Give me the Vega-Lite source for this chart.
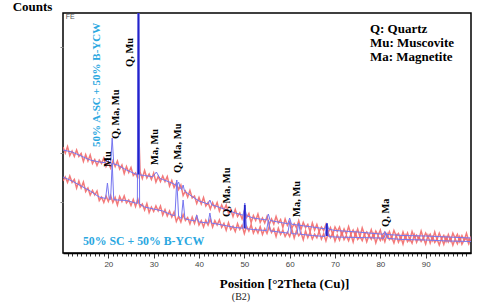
{
"$schema": "https://vega.github.io/schema/vega-lite/v6.json",
"width": 408, "height": 240,
"autosize": {"type": "none"},
"padding": {"left": 63, "top": 13, "right": 9, "bottom": 53},
"background": "white",
"config": {"view": {"stroke": "black", "strokeWidth": 1.5}},
"title": {"text": "(B2)", "orient": "bottom", "anchor": "middle", "dx": -26, "offset": 2, "fontSize": 10, "font": "Liberation Serif", "fontWeight": "normal", "color": "#222"},
"datasets": {
"obsA": [{"x":10,"v":1060},{"x":10.5,"v":1000},{"x":11,"v":1065},{"x":11.5,"v":975},{"x":12,"v":1020},{"x":12.5,"v":965},{"x":13,"v":1030},{"x":13.5,"v":965},{"x":14,"v":995},{"x":14.5,"v":915},
{"x":15,"v":985},{"x":15.5,"v":920},{"x":16,"v":980},{"x":16.5,"v":895},{"x":17,"v":935},{"x":17.5,"v":875},{"x":18,"v":930},{"x":18.5,"v":895},{"x":19,"v":950},{"x":19.5,"v":865},
{"x":20,"v":905},{"x":20.5,"v":850},{"x":21,"v":920},{"x":21.5,"v":865},{"x":22,"v":920},{"x":22.5,"v":840},{"x":23,"v":880},{"x":23.5,"v":795},{"x":24,"v":865},{"x":24.5,"v":805},
{"x":25,"v":855},{"x":25.5,"v":775},{"x":26,"v":800},{"x":26.5,"v":745},{"x":26.6,"v":1400},{"x":27,"v":810},{"x":27.5,"v":745},{"x":28,"v":825},{"x":28.5,"v":750},{"x":29,"v":790},{"x":29.5,"v":735},
{"x":30,"v":800},{"x":30.5,"v":710},{"x":31,"v":765},{"x":31.5,"v":715},{"x":32,"v":770},{"x":32.5,"v":715},{"x":33,"v":765},{"x":33.5,"v":670},{"x":34,"v":725},{"x":34.5,"v":655},
{"x":35,"v":700},{"x":35.5,"v":635},{"x":36,"v":680},{"x":36.5,"v":575},{"x":37,"v":620},{"x":37.5,"v":560},{"x":38,"v":625},{"x":38.5,"v":550},{"x":39,"v":570},{"x":39.5,"v":495},
{"x":40,"v":555},{"x":40.5,"v":490},{"x":41,"v":555},{"x":41.5,"v":470},{"x":42,"v":505},{"x":42.5,"v":440},{"x":43,"v":505},{"x":43.5,"v":450},{"x":44,"v":505},{"x":44.5,"v":420},
{"x":45,"v":480},{"x":45.5,"v":430},{"x":46,"v":480},{"x":46.5,"v":400},{"x":47,"v":435},{"x":47.5,"v":365},{"x":48,"v":435},{"x":48.5,"v":365},{"x":49,"v":400},{"x":49.5,"v":340},
{"x":50,"v":415},{"x":50.5,"v":355},{"x":51,"v":395},{"x":51.5,"v":305},{"x":52,"v":375},{"x":52.5,"v":325},{"x":53,"v":390},{"x":53.5,"v":305},{"x":54,"v":350},{"x":54.5,"v":300},
{"x":55,"v":365},{"x":55.5,"v":285},{"x":56,"v":340},{"x":56.5,"v":290},{"x":57,"v":365},{"x":57.5,"v":300},{"x":58,"v":335},{"x":58.5,"v":255},{"x":59,"v":340},{"x":59.5,"v":275},
{"x":60,"v":315},{"x":60.5,"v":252},{"x":61,"v":294},{"x":61.5,"v":251},{"x":62,"v":323},{"x":62.5,"v":235},{"x":63,"v":307},{"x":63.5,"v":254},{"x":64,"v":286},{"x":64.5,"v":213},
{"x":65,"v":300},{"x":65.5,"v":230},{"x":66,"v":285},{"x":66.5,"v":215},{"x":67,"v":260},{"x":67.5,"v":225},{"x":68,"v":285},{"x":68.5,"v":205},{"x":69,"v":255},{"x":69.5,"v":185},
{"x":70,"v":260},{"x":70.5,"v":215},{"x":71,"v":260},{"x":71.5,"v":180},{"x":72,"v":240},{"x":72.5,"v":190},{"x":73,"v":265},{"x":73.5,"v":190},{"x":74,"v":230},{"x":74.5,"v":175},
{"x":75,"v":240},{"x":75.5,"v":163},{"x":76,"v":251},{"x":76.5,"v":184},{"x":77,"v":212},{"x":77.5,"v":170},{"x":78,"v":233},{"x":78.5,"v":156},{"x":79,"v":219},{"x":79.5,"v":177},
{"x":80,"v":230},{"x":80.5,"v":140},{"x":81,"v":205},{"x":81.5,"v":160},{"x":82,"v":215},{"x":82.5,"v":150},{"x":83,"v":225},{"x":83.5,"v":170},{"x":84,"v":195},{"x":84.5,"v":135},
{"x":85,"v":210},{"x":85.5,"v":145},{"x":86,"v":200},{"x":86.5,"v":130},{"x":87,"v":215},{"x":87.5,"v":155},{"x":88,"v":180},{"x":88.5,"v":135},{"x":89,"v":220},{"x":89.5,"v":145},
{"x":90,"v":200},{"x":90.5,"v":154},{"x":91,"v":188},{"x":91.5,"v":127},{"x":92,"v":211},{"x":92.5,"v":135},{"x":93,"v":199},{"x":93.5,"v":143},{"x":94,"v":177},{"x":94.5,"v":116},
{"x":95,"v":185},{"x":95.5,"v":124},{"x":96,"v":198},{"x":96.5,"v":147},{"x":97,"v":186},{"x":97.5,"v":115},{"x":98,"v":174},{"x":98.5,"v":128},{"x":99,"v":197},{"x":99.5,"v":121},
{"x":100,"v":165}],
"obsB": [{"x":10,"v":720},{"x":10.5,"v":760},{"x":11,"v":705},{"x":11.5,"v":770},{"x":12,"v":705},{"x":12.5,"v":735},{"x":13,"v":650},{"x":13.5,"v":720},{"x":14,"v":650},{"x":14.5,"v":710},
{"x":15,"v":615},{"x":15.5,"v":650},{"x":16,"v":580},{"x":16.5,"v":625},{"x":17,"v":580},{"x":17.5,"v":620},{"x":18,"v":525},{"x":18.5,"v":560},{"x":19,"v":505},{"x":19.5,"v":570},
{"x":20,"v":515},{"x":20.5,"v":575},{"x":21,"v":505},{"x":21.5,"v":555},{"x":22,"v":480},{"x":22.5,"v":565},{"x":23,"v":515},{"x":23.5,"v":570},{"x":24,"v":500},{"x":24.5,"v":530},
{"x":25,"v":475},{"x":25.5,"v":535},{"x":26,"v":465},{"x":26.5,"v":540},{"x":27,"v":460},{"x":27.5,"v":490},{"x":28,"v":430},{"x":28.5,"v":495},{"x":29,"v":405},{"x":29.5,"v":460},
{"x":30,"v":415},{"x":30.5,"v":470},{"x":31,"v":420},{"x":31.5,"v":470},{"x":32,"v":380},{"x":32.5,"v":435},{"x":33,"v":370},{"x":33.5,"v":420},{"x":34,"v":360},{"x":34.5,"v":410},
{"x":35,"v":315},{"x":35.5,"v":365},{"x":36,"v":310},{"x":36.5,"v":385},{"x":37,"v":325},{"x":37.5,"v":355},{"x":38,"v":290},{"x":38.5,"v":360},{"x":39,"v":295},{"x":39.5,"v":365},
{"x":40,"v":280},{"x":40.5,"v":323},{"x":41,"v":260},{"x":41.5,"v":328},{"x":42,"v":280},{"x":42.5,"v":338},{"x":43,"v":260},{"x":43.5,"v":323},{"x":44,"v":280},{"x":44.5,"v":331},
{"x":45,"v":256},{"x":45.5,"v":297},{"x":46,"v":228},{"x":46.5,"v":303},{"x":47,"v":234},{"x":47.5,"v":269},{"x":48,"v":215},{"x":48.5,"v":293},{"x":49,"v":235},{"x":49.5,"v":278},
{"x":50,"v":195},{"x":50.5,"v":268},{"x":51,"v":220},{"x":51.5,"v":283},{"x":52,"v":200},{"x":52.5,"v":248},{"x":53,"v":200},{"x":53.5,"v":263},{"x":54,"v":185},{"x":54.5,"v":243},
{"x":55,"v":195},{"x":55.5,"v":268},{"x":56,"v":205},{"x":56.5,"v":243},{"x":57,"v":165},{"x":57.5,"v":248},{"x":58,"v":185},{"x":58.5,"v":228},{"x":59,"v":165},{"x":59.5,"v":208},
{"x":60,"v":165},{"x":60.5,"v":238},{"x":61,"v":151},{"x":61.5,"v":224},{"x":62,"v":172},{"x":62.5,"v":205},{"x":63,"v":133},{"x":63.5,"v":221},{"x":64,"v":154},{"x":64.5,"v":207},
{"x":65,"v":140},{"x":65.5,"v":189},{"x":66,"v":152},{"x":66.5,"v":216},{"x":67,"v":139},{"x":67.5,"v":193},{"x":68,"v":121},{"x":68.5,"v":200},{"x":69,"v":153},{"x":69.5,"v":202},
{"x":70,"v":120},{"x":70.5,"v":180},{"x":71,"v":129},{"x":71.5,"v":209},{"x":72,"v":133},{"x":72.5,"v":173},{"x":73,"v":122},{"x":73.5,"v":187},{"x":74,"v":111},{"x":74.5,"v":201},
{"x":75,"v":135},{"x":75.5,"v":165},{"x":76,"v":124},{"x":76.5,"v":189},{"x":77,"v":113},{"x":77.5,"v":178},{"x":78,"v":137},{"x":78.5,"v":192},{"x":79,"v":101},{"x":79.5,"v":171},
{"x":80,"v":125},{"x":80.5,"v":179},{"x":81,"v":112},{"x":81.5,"v":191},{"x":82,"v":134},{"x":82.5,"v":158},{"x":83,"v":101},{"x":83.5,"v":175},{"x":84,"v":108},{"x":84.5,"v":162},
{"x":85,"v":90},{"x":85.5,"v":175},{"x":86,"v":114},{"x":86.5,"v":144},{"x":87,"v":98},{"x":87.5,"v":183},{"x":88,"v":107},{"x":88.5,"v":162},{"x":89,"v":116},{"x":89.5,"v":151},
{"x":90,"v":90},{"x":90.5,"v":174},{"x":91,"v":98},{"x":91.5,"v":162},{"x":92,"v":106},{"x":92.5,"v":140},{"x":93,"v":79},{"x":93.5,"v":148},{"x":94,"v":87},{"x":94.5,"v":161},
{"x":95,"v":110},{"x":95.5,"v":150},{"x":96,"v":79},{"x":96.5,"v":139},{"x":97,"v":93},{"x":97.5,"v":163},{"x":98,"v":87},{"x":98.5,"v":132},{"x":99,"v":146},{"x":99.5,"v":91},
{"x":100,"v":160}],
"fitA": [{"x":10,"v":1030},{"x":12,"v":1010},{"x":14,"v":970},{"x":16,"v":930},{"x":18,"v":910},{"x":19.4,"v":902},{"x":19.8,"v":950},{"x":20.2,"v":900},{"x":20.5,"v":895},{"x":20.85,"v":1150},{"x":21.2,"v":890},{"x":22,"v":880},{"x":24,"v":830},{"x":26,"v":790},{"x":26.4,"v":786},{"x":26.65,"v":3000},{"x":26.9,"v":781},{"x":28,"v":775},{"x":29.8,"v":762},{"x":30.6,"v":810},{"x":31.4,"v":745},{"x":32,"v":735},{"x":34,"v":700},{"x":35.1,"v":675},{"x":35.5,"v":710},{"x":35.9,"v":645},{"x":36.2,"v":635},{"x":36.5,"v":680},{"x":36.8,"v":620},{"x":38,"v":580},{"x":40,"v":520},{"x":42,"v":490},{"x":42.4,"v":530},{"x":42.8,"v":482},{"x":44,"v":465},{"x":48,"v":400},{"x":49.7,"v":378},{"x":50.1,"v":450},{"x":50.5,"v":372},{"x":52,"v":350},{"x":54.9,"v":330},{"x":55.3,"v":390},{"x":55.7,"v":325},{"x":58,"v":305},{"x":59.6,"v":293},{"x":60,"v":350},{"x":60.4,"v":288},{"x":62,"v":278},{"x":65,"v":260},{"x":67.8,"v":242},{"x":68.2,"v":300},{"x":68.6,"v":238},{"x":70,"v":225},{"x":75,"v":210},{"x":80,"v":190},{"x":80.6,"v":188},{"x":81,"v":215},{"x":81.4,"v":185},{"x":85,"v":175},{"x":90,"v":170},{"x":95,"v":160},{"x":100,"v":150}],
"fitB": [{"x":10,"v":760},{"x":12,"v":720},{"x":14,"v":670},{"x":16,"v":620},{"x":18,"v":560},{"x":19.4,"v":545},{"x":19.8,"v":700},{"x":20.2,"v":538},{"x":20.5,"v":535},{"x":20.85,"v":900},{"x":21.2,"v":533},{"x":22,"v":530},{"x":24,"v":525},{"x":26,"v":500},{"x":26.4,"v":495},{"x":26.65,"v":2800},{"x":26.9,"v":490},{"x":28,"v":460},{"x":30,"v":440},{"x":32,"v":420},{"x":34,"v":380},{"x":34.7,"v":373},{"x":35.1,"v":730},{"x":35.5,"v":367},{"x":36.1,"v":345},{"x":36.5,"v":530},{"x":36.9,"v":342},{"x":38,"v":330},{"x":39.1,"v":320},{"x":39.5,"v":380},{"x":39.9,"v":311},{"x":42,"v":300},{"x":42.4,"v":400},{"x":42.8,"v":298},{"x":44,"v":290},{"x":48,"v":255},{"x":49.7,"v":248},{"x":50.1,"v":500},{"x":50.5,"v":243},{"x":52,"v":235},{"x":54.9,"v":224},{"x":55.3,"v":330},{"x":55.7,"v":221},{"x":59.6,"v":199},{"x":60,"v":310},{"x":60.4,"v":194},{"x":61.6,"v":190},{"x":62,"v":300},{"x":62.4,"v":187},{"x":65,"v":175},{"x":67.8,"v":165},{"x":68.2,"v":300},{"x":68.6,"v":164},{"x":70,"v":160},{"x":75,"v":155},{"x":80,"v":150},{"x":80.8,"v":148},{"x":81.2,"v":200},{"x":81.6,"v":146},{"x":85,"v":135},{"x":90,"v":130},{"x":95,"v":120},{"x":100,"v":115}],
"spikes": [{"x":26.65,"v":785,"v2":3000},{"x":50.1,"v":245,"v2":480},{"x":68.2,"v":170,"v2":295}],
"peakLabels": [{"x":19.9,"v":860,"t":"Mu"},{"x":21.7,"v":1140,"t":"Q, Ma, Mu"},{"x":24.8,"v":1860,"t":"Q, Mu"},{"x":30.3,"v":880,"t":"Ma, Mu"},{"x":35.4,"v":800,"t":"Q, Ma, Mu"},{"x":46.2,"v":360,"t":"Q, Ma, Mu"},{"x":61.6,"v":360,"t":"Ma, Mu"},{"x":81.3,"v":260,"t":"Q, Ma"}],
"legendText": [{"x":77.7,"v":2200,"t":"Q: Quartz"},{"x":77.7,"v":2060,"t":"Mu: Muscovite"},{"x":77.7,"v":1920,"t":"Ma: Magnetite"}],
"sampleB": [{"x":14.4,"v":120,"t":"50% SC + 50% B-YCW"}],
"sampleA": [{"x":17.5,"v":1060,"t":"50% A-SC + 50% B-YCW"}],
"tag": [{"x":10.6,"v":2360,"t":"FE"}]
},
"encoding": {
"x": {"field": "x", "type": "quantitative", "scale": {"domain": [10, 100], "nice": false, "zero": false},
"axis": {"title": "Position [°2Theta (Cu)]", "titleFont": "Liberation Serif", "titleFontSize": 13, "titleFontWeight": "bold", "titleColor": "black", "titleX": 221, "titleY": 30, "titleBaseline": "middle", "titleAlign": "center",
"values": [11,12,13,14,15,16,17,18,19,20,21,22,23,24,25,26,27,28,29,30,31,32,33,34,35,36,37,38,39,40,41,42,43,44,45,46,47,48,49,50,51,52,53,54,55,56,57,58,59,60,61,62,63,64,65,66,67,68,69,70,71,72,73,74,75,76,77,78,79,80,81,82,83,84,85,86,87,88,89,90,91,92,93,94,95,96,97,98,99],
"labelExpr": "(datum.value % 10 === 0 && datum.value >= 20 && datum.value <= 90) ? datum.value : ''",
"labelFont": "Liberation Sans", "labelFontSize": 8, "labelColor": "#444", "labelPadding": 2, "labelOverlap": false, "labelFlush": false,
"tickSize": {"condition": {"test": "datum.value % 10 === 0", "value": 5}, "value": 3},
"tickColor": "#333", "tickWidth": 1, "domainColor": "black", "domainWidth": 1.5, "grid": false}},
"y": {"field": "v", "type": "quantitative", "scale": {"domain": [0, 2400], "nice": false, "zero": false},
"axis": {"title": "Counts", "titleAngle": 0, "titleX": -31, "titleY": -7, "titleAlign": "center", "titleBaseline": "middle", "titleFont": "Liberation Serif", "titleFontSize": 13, "titleFontWeight": "bold", "titleColor": "black",
"values": [510, 1000, 2060], "labels": false, "tickSize": 3, "tickColor": "#888", "domain": false, "grid": false}}
},
"layer": [
{"data": {"name": "obsA"}, "mark": {"type": "line", "color": "#f26c6c", "strokeWidth": 1.5, "opacity": 0.9, "clip": true}},
{"data": {"name": "obsB"}, "mark": {"type": "line", "color": "#f26c6c", "strokeWidth": 1.5, "opacity": 0.9, "clip": true}},
{"data": {"name": "fitA"}, "mark": {"type": "line", "color": "#7676f0", "strokeWidth": 1, "clip": true}},
{"data": {"name": "fitB"}, "mark": {"type": "line", "color": "#7676f0", "strokeWidth": 1, "clip": true}},
{"data": {"name": "spikes"}, "mark": {"type": "rule", "color": "#2424c8", "strokeWidth": 1.8, "clip": true}, "encoding": {"y2": {"field": "v2"}}},
{"data": {"name": "peakLabels"}, "mark": {"type": "text", "angle": 270, "align": "left", "baseline": "middle", "font": "Liberation Serif", "fontWeight": "bold", "fontSize": 10.5, "color": "black"}, "encoding": {"text": {"field": "t"}}},
{"data": {"name": "legendText"}, "mark": {"type": "text", "align": "left", "baseline": "alphabetic", "font": "Liberation Serif", "fontWeight": "bold", "fontSize": 13, "color": "black"}, "encoding": {"text": {"field": "t"}}},
{"data": {"name": "sampleB"}, "mark": {"type": "text", "align": "left", "baseline": "middle", "font": "Liberation Serif", "fontWeight": "bold", "fontSize": 11.8, "color": "#2aa7df"}, "encoding": {"text": {"field": "t"}}},
{"data": {"name": "sampleA"}, "mark": {"type": "text", "angle": 270, "align": "left", "baseline": "middle", "font": "Liberation Serif", "fontWeight": "bold", "fontSize": 11, "color": "#2aa7df"}, "encoding": {"text": {"field": "t"}}},
{"data": {"name": "tag"}, "mark": {"type": "text", "align": "left", "baseline": "middle", "font": "Liberation Sans", "fontSize": 7, "color": "#555"}, "encoding": {"text": {"field": "t"}}}
]
}
